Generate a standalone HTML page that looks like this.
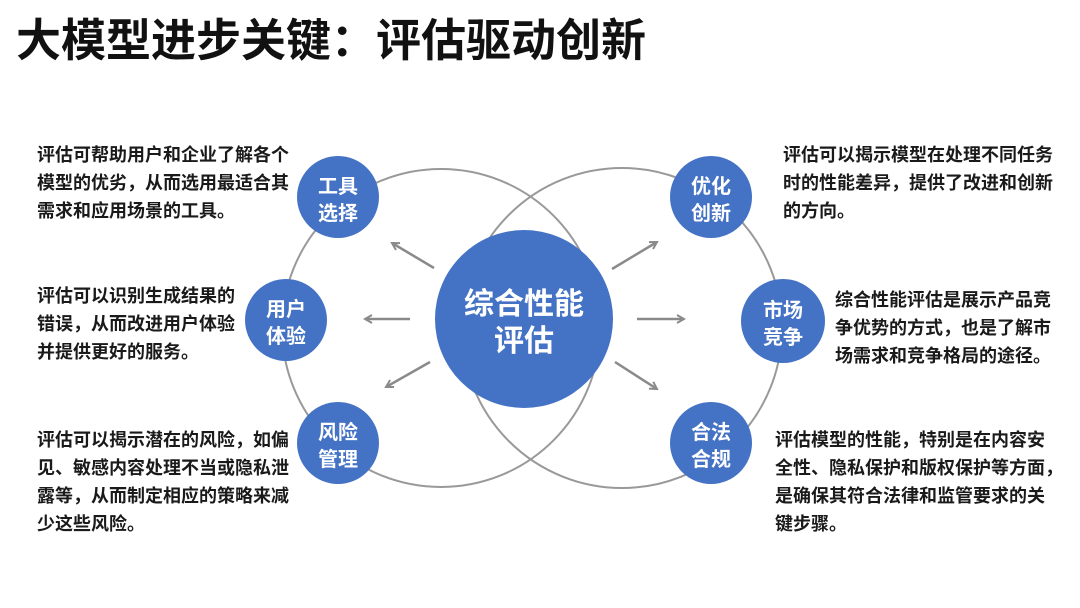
<!DOCTYPE html>
<html><head><meta charset="utf-8"><style>
body{margin:0;width:1080px;height:608px;background:#fff;position:relative;overflow:hidden;font-family:"Liberation Sans","Noto Sans CJK SC",sans-serif;}
.t{position:absolute;font-weight:bold;color:#1a1a1a;font-size:18px;line-height:28px;white-space:nowrap;}
h1{position:absolute;left:16px;top:14px;margin:0;font-size:45px;line-height:54px;font-weight:bold;color:#111;}
</style></head><body>
<h1>大模型进步关键：评估驱动创新</h1>
<svg width="1080" height="608" style="position:absolute;left:0;top:0">
<defs><marker id="a" markerWidth="10" markerHeight="10" refX="8" refY="5" orient="auto" markerUnits="userSpaceOnUse"><path d="M1,1 L8,5 L1,9" fill="none" stroke="#8a8a8a" stroke-width="2"/></marker></defs>
<circle cx="441" cy="328" r="159" fill="none" stroke="#999" stroke-width="2"/>
<circle cx="622" cy="328" r="160" fill="none" stroke="#999" stroke-width="2"/>
<g stroke="#8a8a8a" stroke-width="2.5" marker-end="url(#a)">
<line x1="434" y1="268" x2="392" y2="243"/>
<line x1="410" y1="319" x2="365" y2="319"/>
<line x1="430" y1="362" x2="386" y2="387"/>
<line x1="612" y1="269" x2="657" y2="242"/>
<line x1="637" y1="319" x2="684" y2="319"/>
<line x1="615" y1="362" x2="657" y2="389"/>
</g>
<g fill="#4472c4">
<circle cx="524" cy="319" r="89"/>
<circle cx="338" cy="197" r="41"/>
<circle cx="286" cy="320" r="41"/>
<circle cx="338" cy="443" r="41"/>
<circle cx="711" cy="197" r="41"/>
<circle cx="783" cy="321" r="42"/>
<circle cx="711" cy="443" r="41"/>
</g>
<g fill="#fff" font-weight="bold" font-family="Liberation Sans, Noto Sans CJK SC, sans-serif" text-anchor="middle">
<text x="524" y="314" font-size="30">综合性能</text>
<text x="524" y="351" font-size="30">评估</text>
<text x="338" y="193" font-size="20">工具</text><text x="338" y="220" font-size="20">选择</text>
<text x="286" y="316" font-size="20">用户</text><text x="286" y="343" font-size="20">体验</text>
<text x="338" y="439" font-size="20">风险</text><text x="338" y="466" font-size="20">管理</text>
<text x="711" y="193" font-size="20">优化</text><text x="711" y="220" font-size="20">创新</text>
<text x="783" y="317" font-size="20">市场</text><text x="783" y="344" font-size="20">竞争</text>
<text x="711" y="439" font-size="20">合法</text><text x="711" y="466" font-size="20">合规</text>
</g>
</svg>
<div class="t" style="left:37px;top:141px">评估可帮助用户和企业了解各个<br>模型的优劣，从而选用最适合其<br>需求和应用场景的工具。</div>
<div class="t" style="left:37px;top:282px">评估可以识别生成结果的<br>错误，从而改进用户体验<br>并提供更好的服务。</div>
<div class="t" style="left:37px;top:426px">评估可以揭示潜在的风险，如偏<br>见、敏感内容处理不当或隐私泄<br>露等，从而制定相应的策略来减<br>少这些风险。</div>
<div class="t" style="left:783px;top:141px">评估可以揭示模型在处理不同任务<br>时的性能差异，提供了改进和创新<br>的方向。</div>
<div class="t" style="left:835px;top:286px">综合性能评估是展示产品竞<br>争优势的方式，也是了解市<br>场需求和竞争格局的途径。</div>
<div class="t" style="left:775px;top:426px">评估模型的性能，特别是在内容安<br>全性、隐私保护和版权保护等方面，<br>是确保其符合法律和监管要求的关<br>键步骤。</div>
</body></html>
